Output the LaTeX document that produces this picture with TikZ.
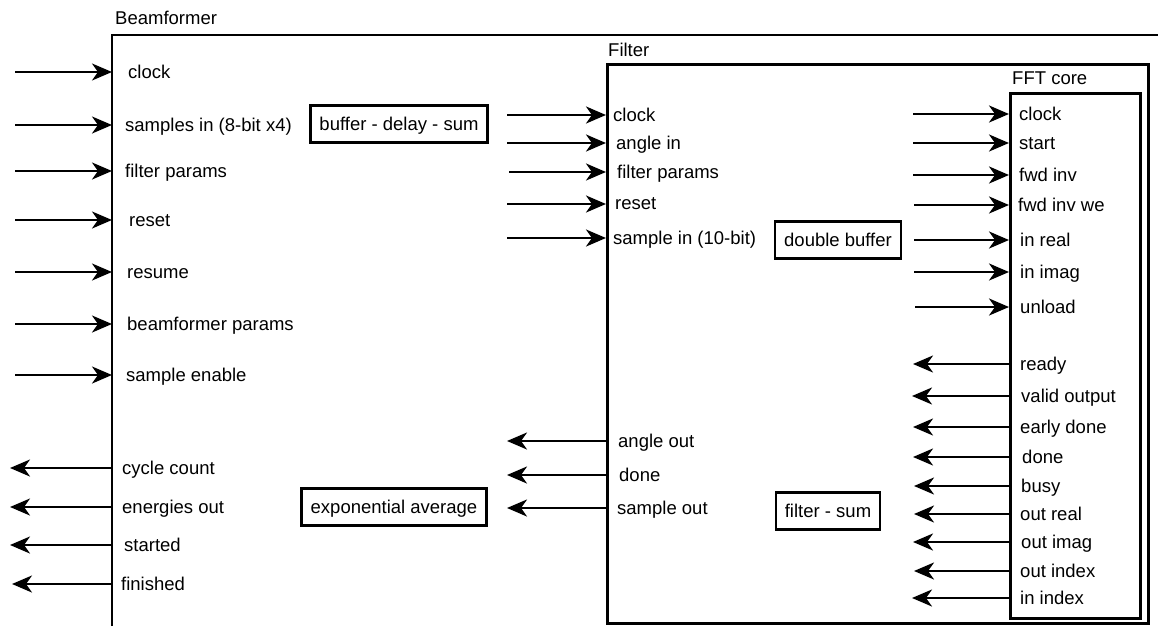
\documentclass[tikz,border=0pt]{standalone}
\usepackage{fontspec}
\setmainfont{Liberation Sans}
\usetikzlibrary{arrows.meta}

\tikzset{
  sig/.style={line width=2.6pt, -{Stealth[length=20pt,width=17pt,inset=6pt]}},
  lbl/.style={anchor=west, inner sep=0pt, text height=15pt, text depth=2pt},
  blk/.style={draw, line width=2.4pt, inner xsep=9pt, minimum height=37pt, text height=15pt, text depth=2pt},
  frame/.style={draw, line width=2.8pt, anchor=north west, inner sep=0pt}
}

\begin{document}
\begin{tikzpicture}[x=1pt, y=-1pt, every node/.style={font=\fontsize{18.5}{22}\selectfont}]
		\useasboundingbox (0,0) rectangle (1158,626);
		
		%%%%% BEAMFORMER %%%%%
		\node[lbl] (bftitle) at (115,18) {Beamformer};
		\coordinate (bfcorner) at (112,35);
		\draw[line width=2.8pt] (112,626) -- (bfcorner) -- (1158,35);
		
		\node[lbl] (bfclock) at (128,72) {clock};
		\node[lbl] (bfsamples) at (125,125) {samples in (8-bit x4)};
		\node[lbl] (bfparams) at (125,171) {filter params};
		\node[lbl] (bfreset) at (129,220) {reset};
		\node[lbl] (bfresume) at (127,272) {resume};
		\node[lbl] (bfbparams) at (127,324) {beamformer params};
		\node[lbl] (bfenable) at (126,375) {sample enable};
		
		\coordinate (inclock) at (15,72);
		\coordinate (insamples) at (15,125);
		\coordinate (inparams) at (15,171);
		\coordinate (inreset) at (15,220);
		\coordinate (inresume) at (15,272);
		\coordinate (inbparams) at (15,324);
		\coordinate (inenable) at (15,375);
		\draw[sig] (inclock) -- (inclock -| bfcorner);
		\draw[sig] (insamples) -- (insamples -| bfcorner);
		\draw[sig] (inparams) -- (inparams -| bfcorner);
		\draw[sig] (inreset) -- (inreset -| bfcorner);
		\draw[sig] (inresume) -- (inresume -| bfcorner);
		\draw[sig] (inbparams) -- (inbparams -| bfcorner);
		\draw[sig] (inenable) -- (inenable -| bfcorner);
		
		\node[lbl] (bfcycles) at (122,468) {cycle count};
		\node[lbl] (bfenergies) at (122,507) {energies out};
		\node[lbl] (bfstarted) at (124,545) {started};
		\node[lbl] (bffinished) at (121,584) {finished};
		
		\coordinate (outcycles) at (10,468);
		\coordinate (outenergies) at (10,507);
		\coordinate (outstarted) at (10,545);
		\coordinate (outfinished) at (12,584);
		\draw[sig] (outcycles -| bfcorner) -- (outcycles);
		\draw[sig] (outenergies -| bfcorner) -- (outenergies);
		\draw[sig] (outstarted -| bfcorner) -- (outstarted);
		\draw[sig] (outfinished -| bfcorner) -- (outfinished);
		
		\node[blk] (bds) at (399,124) {buffer - delay - sum};
		\node[blk] (expavg) at (394,507) {exponential average};
		
		%%%%% FILTER %%%%%
		\node[lbl] (ftitle) at (608,50) {Filter};
		\node[frame, minimum width=541, minimum height=559] (filt) at (606,63) {};
		
		\node[lbl] (fclock) at (613,115) {clock};
		\node[lbl] (fangle) at (616,143) {angle in};
		\node[lbl] (fparams) at (617,172) {filter params};
		\node[lbl] (freset) at (615,203) {reset};
		\node[lbl] (fsample) at (613,238) {sample in (10-bit)};
		
		\coordinate (finclock) at (507,115);
		\coordinate (finangle) at (507,143);
		\coordinate (finparams) at (509,172);
		\coordinate (finreset) at (507,204);
		\coordinate (finsample) at (507,238);
		\draw[sig] (finclock) -- (finclock -| filt.west);
		\draw[sig] (finangle) -- (finangle -| filt.west);
		\draw[sig] (finparams) -- (finparams -| filt.west);
		\draw[sig] (finreset) -- (finreset -| filt.west);
		\draw[sig] (finsample) -- (finsample -| filt.west);
		
		\node[lbl] (fangleout) at (618,441) {angle out};
		\node[lbl] (fdone) at (619,475) {done};
		\node[lbl] (fsampleout) at (617,508) {sample out};
		
		\coordinate (foutangle) at (507,441);
		\coordinate (foutdone) at (507,475);
		\coordinate (foutsample) at (507,508);
		\draw[sig] (foutangle -| filt.west) -- (foutangle);
		\draw[sig] (foutdone -| filt.west) -- (foutdone);
		\draw[sig] (foutsample -| filt.west) -- (foutsample);
		
		\node[blk] (dbuf) at (838,240) {double buffer};
		\node[blk] (fsum) at (828,511) {filter - sum};
		
		%%%%% FFT CORE %%%%%
		\node[lbl] (ffttitle) at (1012,78) {FFT core};
		\node[frame, minimum width=130, minimum height=525] (fft) at (1009,92) {};
		
		\node[lbl] (fftclock) at (1019,114) {clock};
		\node[lbl] (fftstart) at (1019,143) {start};
		\node[lbl] (fftfwd) at (1019,175) {fwd inv};
		\node[lbl] (fftfwdwe) at (1018,205) {fwd inv we};
		\node[lbl] (fftreal) at (1020,240) {in real};
		\node[lbl] (fftimag) at (1020,272) {in imag};
		\node[lbl] (fftunload) at (1020,307) {unload};
		
		\coordinate (fftinclock) at (913,114);
		\coordinate (fftinstart) at (913,143);
		\coordinate (fftinfwd) at (913,175);
		\coordinate (fftinfwdwe) at (914,205);
		\coordinate (fftinreal) at (914,240);
		\coordinate (fftinimag) at (914,272);
		\coordinate (fftinunload) at (915,307);
		\draw[sig] (fftinclock) -- (fftinclock -| fft.west);
		\draw[sig] (fftinstart) -- (fftinstart -| fft.west);
		\draw[sig] (fftinfwd) -- (fftinfwd -| fft.west);
		\draw[sig] (fftinfwdwe) -- (fftinfwdwe -| fft.west);
		\draw[sig] (fftinreal) -- (fftinreal -| fft.west);
		\draw[sig] (fftinimag) -- (fftinimag -| fft.west);
		\draw[sig] (fftinunload) -- (fftinunload -| fft.west);
		
		\node[lbl] (fftready) at (1020,364) {ready};
		\node[lbl] (fftvalid) at (1021,396) {valid output};
		\node[lbl] (fftearly) at (1020,427) {early done};
		\node[lbl] (fftdone) at (1022,457) {done};
		\node[lbl] (fftbusy) at (1021,486) {busy};
		\node[lbl] (fftoreal) at (1020,514) {out real};
		\node[lbl] (fftoimag) at (1021,542) {out imag};
		\node[lbl] (fftoindex) at (1020,571) {out index};
		\node[lbl] (fftiindex) at (1020,598) {in index};
		
		\coordinate (fftoutready) at (913,364);
		\coordinate (fftoutvalid) at (912,396);
		\coordinate (fftoutearly) at (913,427);
		\coordinate (fftoutdone) at (913,457);
		\coordinate (fftoutbusy) at (914,486);
		\coordinate (fftoutreal) at (914,514);
		\coordinate (fftoutimag) at (913,542);
		\coordinate (fftoutoindex) at (914,571);
		\coordinate (fftoutiindex) at (912,598);
		\draw[sig] (fftoutready -| fft.west) -- (fftoutready);
		\draw[sig] (fftoutvalid -| fft.west) -- (fftoutvalid);
		\draw[sig] (fftoutearly -| fft.west) -- (fftoutearly);
		\draw[sig] (fftoutdone -| fft.west) -- (fftoutdone);
		\draw[sig] (fftoutbusy -| fft.west) -- (fftoutbusy);
		\draw[sig] (fftoutreal -| fft.west) -- (fftoutreal);
		\draw[sig] (fftoutimag -| fft.west) -- (fftoutimag);
		\draw[sig] (fftoutoindex -| fft.west) -- (fftoutoindex);
		\draw[sig] (fftoutiindex -| fft.west) -- (fftoutiindex);
		
		%%%%% END %%%%%
	\end{tikzpicture}
\end{document}
